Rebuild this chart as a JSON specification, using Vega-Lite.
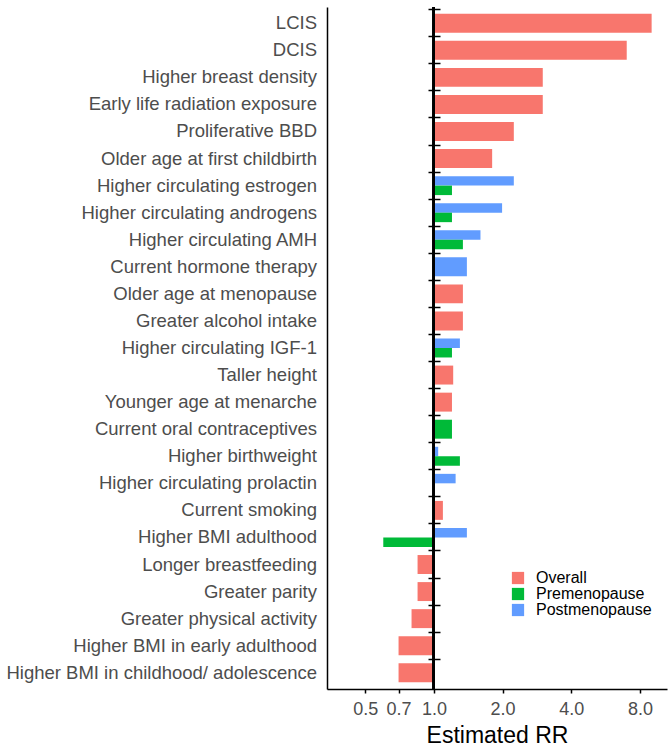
{
  "$schema": "https://vega.github.io/schema/vega-lite/v6.json",
  "autosize": {"type": "none"},
  "width": 340,
  "height": 682,
  "padding": {"left": 327, "top": 7, "right": 5, "bottom": 57},
  "config": {
    "font": "Liberation Sans",
    "view": {"stroke": null},
    "axis": {"grid": false}
  },
  "data": {
    "values": [
      {"factor": "LCIS", "group": "Overall", "rr": 9.0, "stratified": false},
      {"factor": "DCIS", "group": "Overall", "rr": 7.0, "stratified": false},
      {"factor": "Higher breast density", "group": "Overall", "rr": 3.0, "stratified": false},
      {"factor": "Early life radiation exposure", "group": "Overall", "rr": 3.0, "stratified": false},
      {"factor": "Proliferative BBD", "group": "Overall", "rr": 2.24, "stratified": false},
      {"factor": "Older age at first childbirth", "group": "Overall", "rr": 1.8, "stratified": false},
      {"factor": "Higher circulating estrogen", "group": "Postmenopause", "rr": 2.24, "stratified": true},
      {"factor": "Higher circulating estrogen", "group": "Premenopause", "rr": 1.2, "stratified": true},
      {"factor": "Higher circulating androgens", "group": "Postmenopause", "rr": 1.99, "stratified": true},
      {"factor": "Higher circulating androgens", "group": "Premenopause", "rr": 1.2, "stratified": true},
      {"factor": "Higher circulating AMH", "group": "Postmenopause", "rr": 1.6, "stratified": true},
      {"factor": "Higher circulating AMH", "group": "Premenopause", "rr": 1.34, "stratified": true},
      {"factor": "Current hormone therapy", "group": "Postmenopause", "rr": 1.395, "stratified": false},
      {"factor": "Older age at menopause", "group": "Overall", "rr": 1.34, "stratified": false},
      {"factor": "Greater alcohol intake", "group": "Overall", "rr": 1.34, "stratified": false},
      {"factor": "Higher circulating IGF-1", "group": "Postmenopause", "rr": 1.3, "stratified": true},
      {"factor": "Higher circulating IGF-1", "group": "Premenopause", "rr": 1.2, "stratified": true},
      {"factor": "Taller height", "group": "Overall", "rr": 1.215, "stratified": false},
      {"factor": "Younger age at menarche", "group": "Overall", "rr": 1.2, "stratified": false},
      {"factor": "Current oral contraceptives", "group": "Premenopause", "rr": 1.2, "stratified": false},
      {"factor": "Higher birthweight", "group": "Postmenopause", "rr": 1.044, "stratified": true},
      {"factor": "Higher birthweight", "group": "Premenopause", "rr": 1.3, "stratified": true},
      {"factor": "Higher circulating prolactin", "group": "Postmenopause", "rr": 1.245, "stratified": true},
      {"factor": "Current smoking", "group": "Overall", "rr": 1.095, "stratified": false},
      {"factor": "Higher BMI adulthood", "group": "Postmenopause", "rr": 1.395, "stratified": true},
      {"factor": "Higher BMI adulthood", "group": "Premenopause", "rr": 0.6, "stratified": true},
      {"factor": "Longer breastfeeding", "group": "Overall", "rr": 0.848, "stratified": false},
      {"factor": "Greater parity", "group": "Overall", "rr": 0.848, "stratified": false},
      {"factor": "Greater physical activity", "group": "Overall", "rr": 0.798, "stratified": false},
      {"factor": "Higher BMI in early adulthood", "group": "Overall", "rr": 0.7, "stratified": false},
      {"factor": "Higher BMI in childhood/ adolescence", "group": "Overall", "rr": 0.7, "stratified": false}
    ]
  },
  "resolve": {"axis": {"y": "independent"}},
  "layer": [
    {
      "transform": [{"filter": "datum.stratified == false"}],
      "mark": {"type": "bar", "height": {"band": 0.7}},
      "encoding": {
        "y": {
          "field": "factor", "type": "nominal",
          "scale": {"paddingInner": 0, "paddingOuter": 0.1, "domain": ["LCIS", "DCIS", "Higher breast density", "Early life radiation exposure", "Proliferative BBD", "Older age at first childbirth", "Higher circulating estrogen", "Higher circulating androgens", "Higher circulating AMH", "Current hormone therapy", "Older age at menopause", "Greater alcohol intake", "Higher circulating IGF-1", "Taller height", "Younger age at menarche", "Current oral contraceptives", "Higher birthweight", "Higher circulating prolactin", "Current smoking", "Higher BMI adulthood", "Longer breastfeeding", "Greater parity", "Greater physical activity", "Higher BMI in early adulthood", "Higher BMI in childhood/ adolescence"]},
          "axis": {"orient": "left", "title": null, "ticks": false, "domain": true, "domainColor": "black", "domainWidth": 1.5, "labelColor": "#4D4D4D", "labelFontSize": 18.5, "labelPadding": 10.5, "labelLimit": 0}
        },
        "x": {
          "field": "rr", "type": "quantitative",
          "scale": {"type": "log", "domain": [0.34, 10.51], "nice": false},
          "axis": {"values": [0.5, 0.7, 1, 2, 4, 8], "format": ".1f", "title": "Estimated RR", "titleFontSize": 23, "titleFontWeight": "normal", "titleColor": "black", "titlePadding": 6, "labelColor": "#4D4D4D", "labelFontSize": 18, "labelPadding": 7, "tickSize": 4, "tickColor": "black", "tickWidth": 1.5, "domainColor": "black", "domainWidth": 1.5, "labelFlush": false, "labelOverlap": false}
        },
        "x2": {"datum": 1},
        "color": {
          "field": "group", "type": "nominal",
          "scale": {"domain": ["Overall", "Premenopause", "Postmenopause"], "range": ["#F8766D", "#00BA38", "#619CFF"]},
          "legend": {"title": null, "orient": "none", "legendX": 183, "legendY": 563, "symbolType": "square", "symbolSize": 150, "symbolStrokeWidth": 0, "symbolOpacity": 1, "labelFontSize": 16, "labelColor": "black", "labelOffset": 10, "rowPadding": 0}
        }
      }
    },
    {
      "transform": [{"filter": "datum.stratified == true"}],
      "mark": {"type": "bar"},
      "encoding": {
        "y": {
          "field": "factor", "type": "nominal",
          "scale": {"paddingInner": 0, "paddingOuter": 0.1},
          "axis": {"orient": "right", "offset": -239, "title": null, "labels": false, "domain": false, "ticks": true, "tickSize": 12, "tickColor": "black", "tickWidth": 1.5, "bandPosition": 0}
        },
        "yOffset": {
          "field": "group", "type": "nominal",
          "scale": {"domain": ["Postmenopause", "Premenopause"], "paddingInner": 0, "paddingOuter": 0.4286}
        },
        "x": {"field": "rr", "type": "quantitative"},
        "x2": {"datum": 1},
        "color": {"field": "group", "type": "nominal"}
      }
    },
    {
      "mark": {"type": "rule", "color": "black", "strokeWidth": 2},
      "encoding": {"x": {"datum": 1}}
    }
  ]
}
